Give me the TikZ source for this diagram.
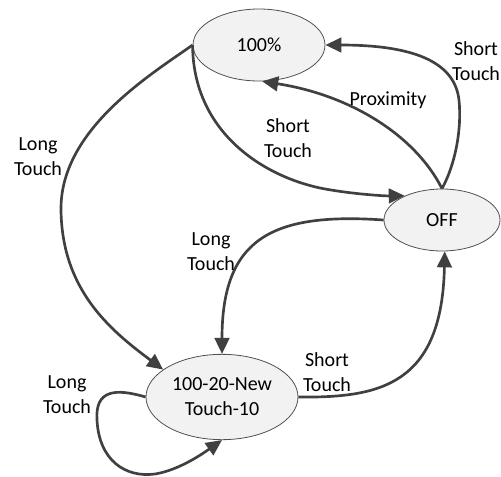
\documentclass[tikz,border=0pt]{standalone}
\usepackage{fontspec}
\setmainfont{Carlito}
\usetikzlibrary{arrows.meta,shapes.geometric}
\definecolor{edgegray}{RGB}{64,64,64}
\definecolor{statefill}{RGB}{242,242,242}
\definecolor{stateline}{RGB}{80,80,80}
\begin{document}
\begin{tikzpicture}[x=0.75pt,y=-0.75pt,
  every node/.style={font=\fontsize{15}{18.75}\selectfont},
  state/.style={ellipse,draw=stateline,line width=0.6pt,fill=statefill,
    inner sep=0pt,align=center},
  trans/.style={draw=edgegray,line width=2pt,
    -{Triangle[length=12pt,width=11pt]}},
  lbl/.style={align=center,inner sep=0pt}]
\useasboundingbox (0,0) rectangle (501,476);

% states
\node[state,minimum width=99pt,minimum height=54pt] (full) at (259,45) {100\%};
\node[state,minimum width=87pt,minimum height=46.5pt] (off) at (442,220) {OFF};
\node[state,minimum width=114pt,minimum height=64pt] (mode) at (222,397) {100-20-New\\Touch-10};

% transitions
\draw[trans] (off.north) .. controls (455,165) and (462,130) .. (459,100)
  .. controls (455,65) and (420,45) .. (full.east);
\draw[trans] (off.north) .. controls (415,135) and (350,95) .. (full.-85);
\draw[trans] (full.west) .. controls (193,130) and (260,175) .. (320,188)
  .. controls (350,194) and (385,196) .. (off.147);
\draw[trans] (full.west) .. controls (150,75) and (60,130) .. (61,210)
  .. controls (62,290) and (110,330) .. (mode.155);
\draw[trans] (off.west) .. controls (270,212) and (222,240) .. (mode.north);
\draw[trans] (mode.east) .. controls (380,398) and (442,385) .. (off.-85);
\draw[trans] (mode.west) .. controls (115,388) and (95,390) .. (97,420)
  .. controls (99,460) and (125,478) .. (155,474)
  .. controls (180,470) and (205,452) .. (mode.south);

% labels
\node[lbl] (l1) at (476,61) {Short\\Touch};
\node[lbl] (l2) at (388,100) {Proximity};
\node[lbl] (l3) at (288,138) {Short\\Touch};
\node[lbl] (l4) at (38,157) {Long\\Touch};
\node[lbl] (l5) at (211,252) {Long\\Touch};
\node[lbl] (l6) at (327,372) {Short\\Touch};
\node[lbl] (l7) at (67,395) {Long\\Touch};
\end{tikzpicture}
\end{document}
